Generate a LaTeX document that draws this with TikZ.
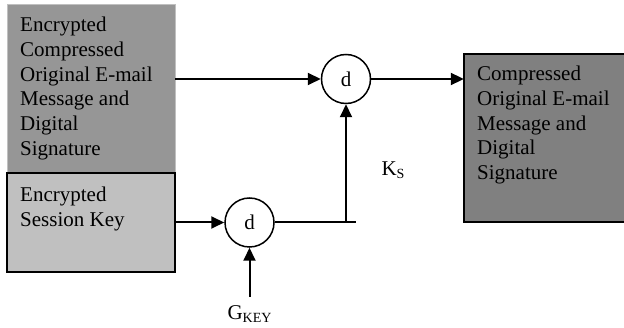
\documentclass[tikz,border=0pt]{standalone}
\usepackage{fontspec}
\setmainfont{Liberation Serif}
\usepackage{tikz}
\usetikzlibrary{arrows.meta,positioning,calc}

\definecolor{msggray}{HTML}{969696}
\definecolor{keygray}{HTML}{C0C0C0}
\definecolor{outgray}{HTML}{808080}

\newcommand{\lowsub}[1]{\raisebox{-0.35ex}{\fontsize{14}{14}\selectfont #1}}

\begin{document}
\begin{tikzpicture}[
    x=1pt, y=-1pt,
    font=\fontsize{21}{24.7}\selectfont,
    databox/.style={rectangle, inner sep=0pt},
    boxtext/.style={anchor=north west, inner sep=0pt, align=left},
    decrypt/.style={circle, draw=black, line width=1.5pt, fill=white, minimum size=49pt, inner sep=0pt},
    arrow/.style={-{Triangle[length=13pt,width=12pt]}, line width=2pt},
    wire/.style={line width=2pt}
]
\useasboundingbox (0,0) rectangle (624,328);

% Boxes
\filldraw[fill=msggray, draw=keygray, line width=1pt] (7,5) rectangle (175,173);
\node[databox, minimum width=168pt, minimum height=168pt] (msgbox) at (91,89) {};
\filldraw[fill=keygray, draw=black, line width=2pt] (7,173) rectangle (175,272);
\node[databox, minimum width=168pt, minimum height=99pt] (keybox) at (91,222.5) {};
\filldraw[fill=outgray, draw=black, line width=2pt] (464,54) rectangle (630,222);
\node[databox, minimum width=166pt, minimum height=168pt] (outbox) at (547,138) {};

% Texts
\node[boxtext] (msgtext) at (20,17) {Encrypted\\Compressed\\Original E-mail\\Message and\\Digital\\Signature};
\node[boxtext] (keytext) at (20,187) {Encrypted\\Session Key};
\node[boxtext] (outtext) at (477,66) {Compressed\\Original E-mail\\Message and\\Digital\\Signature};

% Decryption
\node[decrypt] (dmsg) at (346,79) {d};
\node[decrypt] (dkey) at (249.5,222.5) {d};

\coordinate (junction) at (346,222.5);
\coordinate (wireend) at (356,222.5);
\coordinate (gkeystart) at (249.5,297);

\node (gkey) at (249.5,314) {G\lowsub{KEY}};
\node (ks) at (393,170) {K\lowsub{S}};

% Connectors
\draw[arrow] (msgbox.east |- dmsg.west) -- (dmsg.west);
\draw[arrow] (dmsg.east) -- (outbox.west |- dmsg.east);
\draw[arrow] (keybox.east) -- (dkey.west);
\draw[arrow] (gkeystart) -- (dkey.south);
\draw[wire] (dkey.east) -- (wireend);
\draw[arrow] (junction) -- (dmsg.south);

\end{tikzpicture}
\end{document}
